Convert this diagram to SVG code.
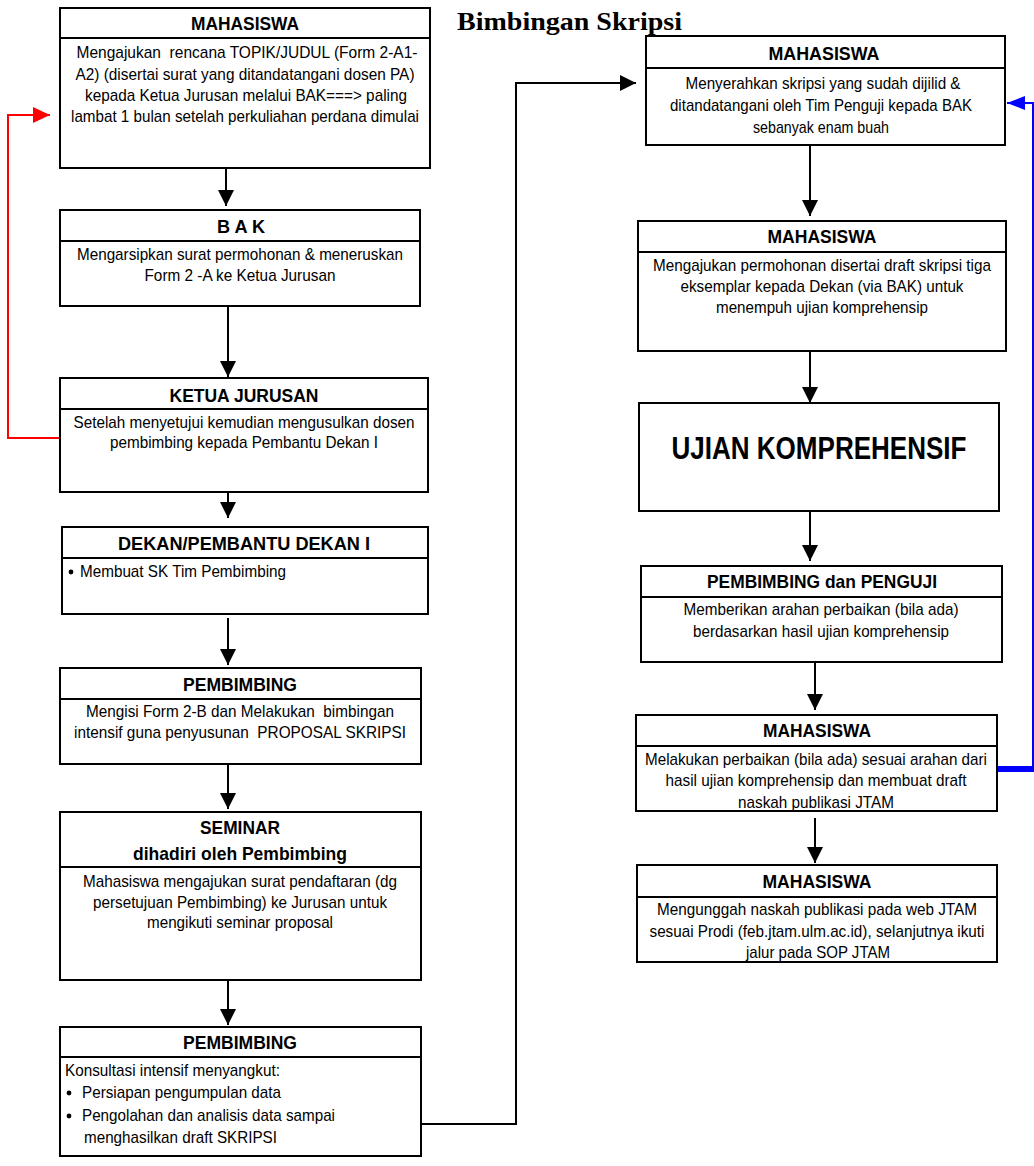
<svg xmlns="http://www.w3.org/2000/svg" width="1034" height="1166" viewBox="0 0 1034 1166">
<style>
.box{fill:#fff;stroke:#000;stroke-width:2}
.div{stroke:#000;stroke-width:2}
.h{font-family:"Liberation Sans",Arial,sans-serif;font-weight:bold;font-size:18.5px;text-anchor:middle;fill:#000}
.t{font-family:"Liberation Sans",Arial,sans-serif;font-size:17px;text-anchor:middle;fill:#000;white-space:pre}
.tl{font-family:"Liberation Sans",Arial,sans-serif;font-size:17px;fill:#000;white-space:pre}
.conn{fill:none;stroke:#000;stroke-width:2}
.title{font-family:"Liberation Serif","Times New Roman",serif;font-weight:bold;font-size:25px;fill:#000}
</style>
<defs>
<marker id="ab" markerUnits="userSpaceOnUse" markerWidth="16" markerHeight="16" refX="16" refY="8" orient="auto"><path d="M0,0 L16,8 L0,16 z" fill="#000"/></marker>
<marker id="ar" markerUnits="userSpaceOnUse" markerWidth="17" markerHeight="16" refX="17" refY="8" orient="auto"><path d="M0,0 L17,8 L0,16 z" fill="#f00"/></marker>
<marker id="abl" markerUnits="userSpaceOnUse" markerWidth="18" markerHeight="14" refX="18" refY="7" orient="auto"><path d="M0,0 L18,7 L0,14 z" fill="#00f"/></marker>
<clipPath id="c5"><rect x="636" y="746" width="361" height="65"/></clipPath>
<clipPath id="c6"><rect x="637" y="897" width="360" height="65"/></clipPath>
</defs>

<text class="title" x="457" y="30" textLength="225" lengthAdjust="spacingAndGlyphs">Bimbingan Skripsi</text>

<g id="connectors">
<line class="conn" x1="226" y1="168" x2="226" y2="206" marker-end="url(#ab)"/>
<line class="conn" x1="228" y1="306" x2="228" y2="377" marker-end="url(#ab)"/>
<line class="conn" x1="228" y1="492" x2="228" y2="518" marker-end="url(#ab)"/>
<line class="conn" x1="228" y1="618" x2="228" y2="665" marker-end="url(#ab)"/>
<line class="conn" x1="228" y1="764" x2="228" y2="809" marker-end="url(#ab)"/>
<line class="conn" x1="228" y1="980" x2="228" y2="1025" marker-end="url(#ab)"/>
<path class="conn" d="M421,1124 H516 V83 H636" marker-end="url(#ab)"/>
<line class="conn" x1="810" y1="145" x2="810" y2="216" marker-end="url(#ab)"/>
<line class="conn" x1="810" y1="351" x2="810" y2="403" marker-end="url(#ab)"/>
<line class="conn" x1="810" y1="511" x2="810" y2="561" marker-end="url(#ab)"/>
<line class="conn" x1="815" y1="662" x2="815" y2="710" marker-end="url(#ab)"/>
<line class="conn" x1="815" y1="818" x2="815" y2="863" marker-end="url(#ab)"/>
<path d="M62,438 H8 V115 H50" fill="none" stroke="#f00" stroke-width="2" marker-end="url(#ar)"/>
<line x1="997" y1="769" x2="1034" y2="769" stroke="#00f" stroke-width="6"/>
<line x1="1033" y1="772" x2="1033" y2="103" stroke="#00f" stroke-width="2"/>
<line x1="1034" y1="103" x2="1007" y2="103" stroke="#00f" stroke-width="2" marker-end="url(#abl)"/>
</g>

<g id="n1">
<rect class="box" x="60" y="8" width="370" height="160"/>
<line class="div" x1="60" y1="38" x2="430" y2="38"/>
<text class="h" x="245" y="30" textLength="108" lengthAdjust="spacingAndGlyphs">MAHASISWA</text>
<text class="t" x="247" y="58" textLength="341" lengthAdjust="spacingAndGlyphs">Mengajukan  rencana TOPIK/JUDUL (Form 2-A1-</text>
<text class="t" x="245" y="80" textLength="339" lengthAdjust="spacingAndGlyphs">A2) (disertai surat yang ditandatangani dosen PA)</text>
<text class="t" x="246" y="101" textLength="322" lengthAdjust="spacingAndGlyphs">kepada Ketua Jurusan melalui BAK===&gt; paling</text>
<text class="t" x="245" y="122" textLength="348" lengthAdjust="spacingAndGlyphs">lambat 1 bulan setelah perkuliahan perdana dimulai</text>
</g>

<g id="n2">
<rect class="box" x="60" y="210" width="360" height="96"/>
<line class="div" x1="60" y1="241" x2="420" y2="241"/>
<text class="h" x="241" y="233" textLength="48" lengthAdjust="spacingAndGlyphs">B A K</text>
<text class="t" x="240" y="260" textLength="326" lengthAdjust="spacingAndGlyphs">Mengarsipkan surat permohonan &amp; meneruskan</text>
<text class="t" x="240" y="281" textLength="191" lengthAdjust="spacingAndGlyphs">Form 2 -A ke Ketua Jurusan</text>
</g>

<g id="n3">
<rect class="box" x="60" y="378" width="368" height="114"/>
<line class="div" x1="60" y1="409" x2="428" y2="409"/>
<text class="h" x="244" y="402" textLength="149" lengthAdjust="spacingAndGlyphs">KETUA JURUSAN</text>
<text class="t" x="244" y="428" textLength="341" lengthAdjust="spacingAndGlyphs">Setelah menyetujui kemudian mengusulkan dosen</text>
<text class="t" x="244" y="448" textLength="268" lengthAdjust="spacingAndGlyphs">pembimbing kepada Pembantu Dekan I</text>
</g>

<g id="n4">
<rect class="box" x="62" y="527" width="366" height="87"/>
<line class="div" x1="62" y1="558" x2="428" y2="558"/>
<text class="h" x="244" y="550" textLength="252" lengthAdjust="spacingAndGlyphs">DEKAN/PEMBANTU  DEKAN  I</text>
<circle cx="71" cy="572" r="2.4" fill="#000"/>
<text class="tl" x="80" y="577" textLength="206" lengthAdjust="spacingAndGlyphs">Membuat SK Tim Pembimbing</text>
</g>

<g id="n5">
<rect class="box" x="60" y="668" width="361" height="96"/>
<line class="div" x1="60" y1="699" x2="421" y2="699"/>
<text class="h" x="240" y="691" textLength="114" lengthAdjust="spacingAndGlyphs">PEMBIMBING</text>
<text class="t" x="240" y="717" textLength="308" lengthAdjust="spacingAndGlyphs">Mengisi Form 2-B dan Melakukan  bimbingan</text>
<text class="t" x="240" y="738" textLength="332" lengthAdjust="spacingAndGlyphs">intensif guna penyusunan  PROPOSAL SKRIPSI</text>
</g>

<g id="n6">
<rect class="box" x="60" y="812" width="361" height="168"/>
<line class="div" x1="60" y1="867" x2="421" y2="867"/>
<text class="h" x="240" y="834" textLength="80" lengthAdjust="spacingAndGlyphs">SEMINAR</text>
<text class="h" x="240" y="860" textLength="214" lengthAdjust="spacingAndGlyphs">dihadiri oleh Pembimbing</text>
<text class="t" x="240" y="887" textLength="314" lengthAdjust="spacingAndGlyphs">Mahasiswa mengajukan surat pendaftaran (dg</text>
<text class="t" x="240" y="908" textLength="294" lengthAdjust="spacingAndGlyphs">persetujuan Pembimbing) ke Jurusan untuk</text>
<text class="t" x="240" y="928" textLength="186" lengthAdjust="spacingAndGlyphs">mengikuti seminar proposal</text>
</g>

<g id="n7">
<rect class="box" x="60" y="1027" width="361" height="129"/>
<line class="div" x1="60" y1="1057" x2="421" y2="1057"/>
<text class="h" x="240" y="1049" textLength="114" lengthAdjust="spacingAndGlyphs">PEMBIMBING</text>
<text class="tl" x="65" y="1076" textLength="215" lengthAdjust="spacingAndGlyphs">Konsultasi intensif menyangkut:</text>
<circle cx="69" cy="1093" r="2.4" fill="#000"/>
<text class="tl" x="82" y="1098" textLength="199" lengthAdjust="spacingAndGlyphs">Persiapan pengumpulan data</text>
<circle cx="69" cy="1116" r="2.4" fill="#000"/>
<text class="tl" x="82" y="1121" textLength="253" lengthAdjust="spacingAndGlyphs">Pengolahan dan analisis data sampai</text>
<text class="tl" x="84" y="1143" textLength="193" lengthAdjust="spacingAndGlyphs">menghasilkan draft SKRIPSI</text>
</g>

<g id="r1">
<rect class="box" x="646" y="36" width="359" height="109"/>
<line class="div" x1="646" y1="68" x2="1005" y2="68"/>
<text class="h" x="824" y="60" textLength="111" lengthAdjust="spacingAndGlyphs">MAHASISWA</text>
<text class="t" x="823" y="89" textLength="275" lengthAdjust="spacingAndGlyphs">Menyerahkan skripsi yang sudah dijilid &amp;</text>
<text class="t" x="821" y="111" textLength="302" lengthAdjust="spacingAndGlyphs">ditandatangani oleh Tim Penguji kepada BAK</text>
<text class="t" x="821" y="133" textLength="136" lengthAdjust="spacingAndGlyphs">sebanyak enam buah</text>
</g>

<g id="r2">
<rect class="box" x="638" y="221" width="368" height="130"/>
<line class="div" x1="638" y1="252" x2="1006" y2="252"/>
<text class="h" x="822" y="243" textLength="109" lengthAdjust="spacingAndGlyphs">MAHASISWA</text>
<text class="t" x="822" y="271" textLength="338" lengthAdjust="spacingAndGlyphs">Mengajukan permohonan disertai draft skripsi tiga</text>
<text class="t" x="822" y="292" textLength="283" lengthAdjust="spacingAndGlyphs">eksemplar kepada Dekan (via BAK) untuk</text>
<text class="t" x="822" y="313" textLength="212" lengthAdjust="spacingAndGlyphs">menempuh ujian komprehensip</text>
</g>

<g id="r3">
<rect class="box" x="639" y="403" width="360" height="108"/>
<text class="h" x="819" y="459" style="font-size:31px" textLength="295" lengthAdjust="spacingAndGlyphs">UJIAN KOMPREHENSIF</text>
</g>

<g id="r4">
<rect class="box" x="641" y="566" width="361" height="96"/>
<line class="div" x1="641" y1="597" x2="1002" y2="597"/>
<text class="h" x="822" y="588" textLength="230" lengthAdjust="spacingAndGlyphs">PEMBIMBING dan PENGUJI</text>
<text class="t" x="821" y="615" textLength="275" lengthAdjust="spacingAndGlyphs">Memberikan arahan perbaikan (bila ada)</text>
<text class="t" x="821" y="637" textLength="256" lengthAdjust="spacingAndGlyphs">berdasarkan hasil ujian komprehensip</text>
</g>

<g id="r5">
<rect class="box" x="636" y="715" width="361" height="96"/>
<line class="div" x1="636" y1="746" x2="997" y2="746"/>
<text class="h" x="817" y="737" textLength="108" lengthAdjust="spacingAndGlyphs">MAHASISWA</text>
<text class="t" x="816" y="765" textLength="342" lengthAdjust="spacingAndGlyphs">Melakukan perbaikan (bila ada) sesuai arahan dari</text>
<text class="t" x="816" y="786" textLength="301" lengthAdjust="spacingAndGlyphs">hasil ujian komprehensip dan membuat draft</text>
<text class="t" x="816" y="808" clip-path="url(#c5)" textLength="156" lengthAdjust="spacingAndGlyphs">naskah publikasi JTAM</text>
</g>

<g id="r6">
<rect class="box" x="637" y="865" width="360" height="97"/>
<line class="div" x1="637" y1="897" x2="997" y2="897"/>
<text class="h" x="817" y="888" textLength="109" lengthAdjust="spacingAndGlyphs">MAHASISWA</text>
<text class="t" x="817" y="915" textLength="320" lengthAdjust="spacingAndGlyphs">Mengunggah naskah publikasi pada web JTAM</text>
<text class="t" x="817" y="937" textLength="335" lengthAdjust="spacingAndGlyphs">sesuai Prodi (feb.jtam.ulm.ac.id), selanjutnya ikuti</text>
<text class="t" x="818" y="958" clip-path="url(#c6)" textLength="144" lengthAdjust="spacingAndGlyphs">jalur pada SOP JTAM</text>
</g>
</svg>
